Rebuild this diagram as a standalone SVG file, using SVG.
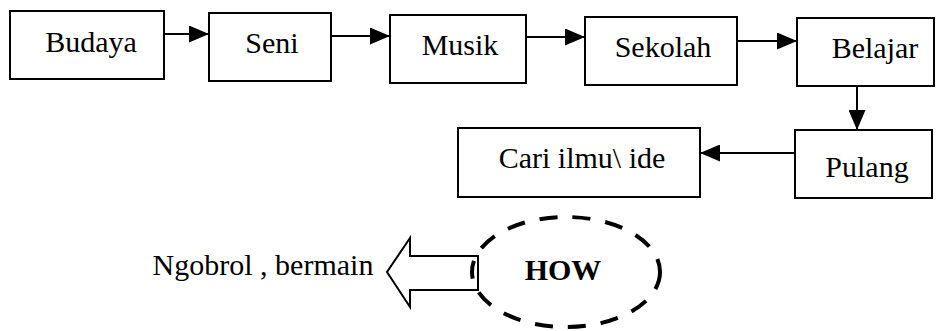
<svg xmlns="http://www.w3.org/2000/svg" width="936" height="331" viewBox="0 0 936 331">
<style>
.box{fill:#fff;stroke:#000;stroke-width:2}
.t{font-family:"Liberation Serif","Times New Roman",serif;font-size:30px;fill:#000;text-anchor:middle}
.b{font-weight:bold}
.c{stroke:#000;stroke-width:2;fill:none}
</style>
<defs>
<marker id="ah" markerUnits="userSpaceOnUse" markerWidth="20" markerHeight="17" refX="20" refY="8.5" orient="auto">
<path d="M0,0 L20,8.5 L0,17 z" fill="#000"/>
</marker>
</defs>
<rect width="936" height="331" fill="#fff"/>
<g id="connectors">
<line class="c" x1="164" y1="34" x2="209" y2="34" marker-end="url(#ah)"/>
<line class="c" x1="331" y1="36" x2="390" y2="36" marker-end="url(#ah)"/>
<line class="c" x1="526" y1="37" x2="585" y2="37" marker-end="url(#ah)"/>
<line class="c" x1="737" y1="41" x2="797" y2="41" marker-end="url(#ah)"/>
<line class="c" x1="857" y1="86" x2="857" y2="130" marker-end="url(#ah)"/>
<line class="c" x1="795" y1="153" x2="700" y2="153" marker-end="url(#ah)"/>
<path id="block-arrow" d="M478,256 L410,256 L410,238 L387,272 L410,307 L410,290 L478,290 Z" fill="#fff" stroke="#000" stroke-width="2"/>
</g>
<g id="budaya"><rect class="box" x="10" y="11" width="154" height="68"/><text class="t" x="91" y="52">Budaya</text></g>
<g id="seni"><rect class="box" x="209" y="13" width="122" height="68"/><text class="t" x="272" y="53">Seni</text></g>
<g id="musik"><rect class="box" x="390" y="15" width="136" height="68"/><text class="t" x="460" y="55">Musik</text></g>
<g id="sekolah"><rect class="box" x="585" y="17" width="152" height="68"/><text class="t" x="663" y="57">Sekolah</text></g>
<g id="belajar"><rect class="box" x="797" y="18" width="137" height="68"/><text class="t" x="875" y="58">Belajar</text></g>
<g id="pulang"><rect class="box" x="795" y="130" width="137" height="68"/><text class="t" x="867" y="177">Pulang</text></g>
<g id="cari"><rect class="box" x="458" y="128" width="242" height="69"/><text class="t" x="582" y="168">Cari ilmu\ ide</text></g>
<g id="ngobrol"><text class="t" x="263" y="275">Ngobrol , bermain</text></g>
<g id="how"><ellipse cx="566" cy="272" rx="94" ry="55" fill="none" stroke="#000" stroke-width="4" stroke-dasharray="18 15"/><text class="t b" x="563" y="280">HOW</text></g>
</svg>
